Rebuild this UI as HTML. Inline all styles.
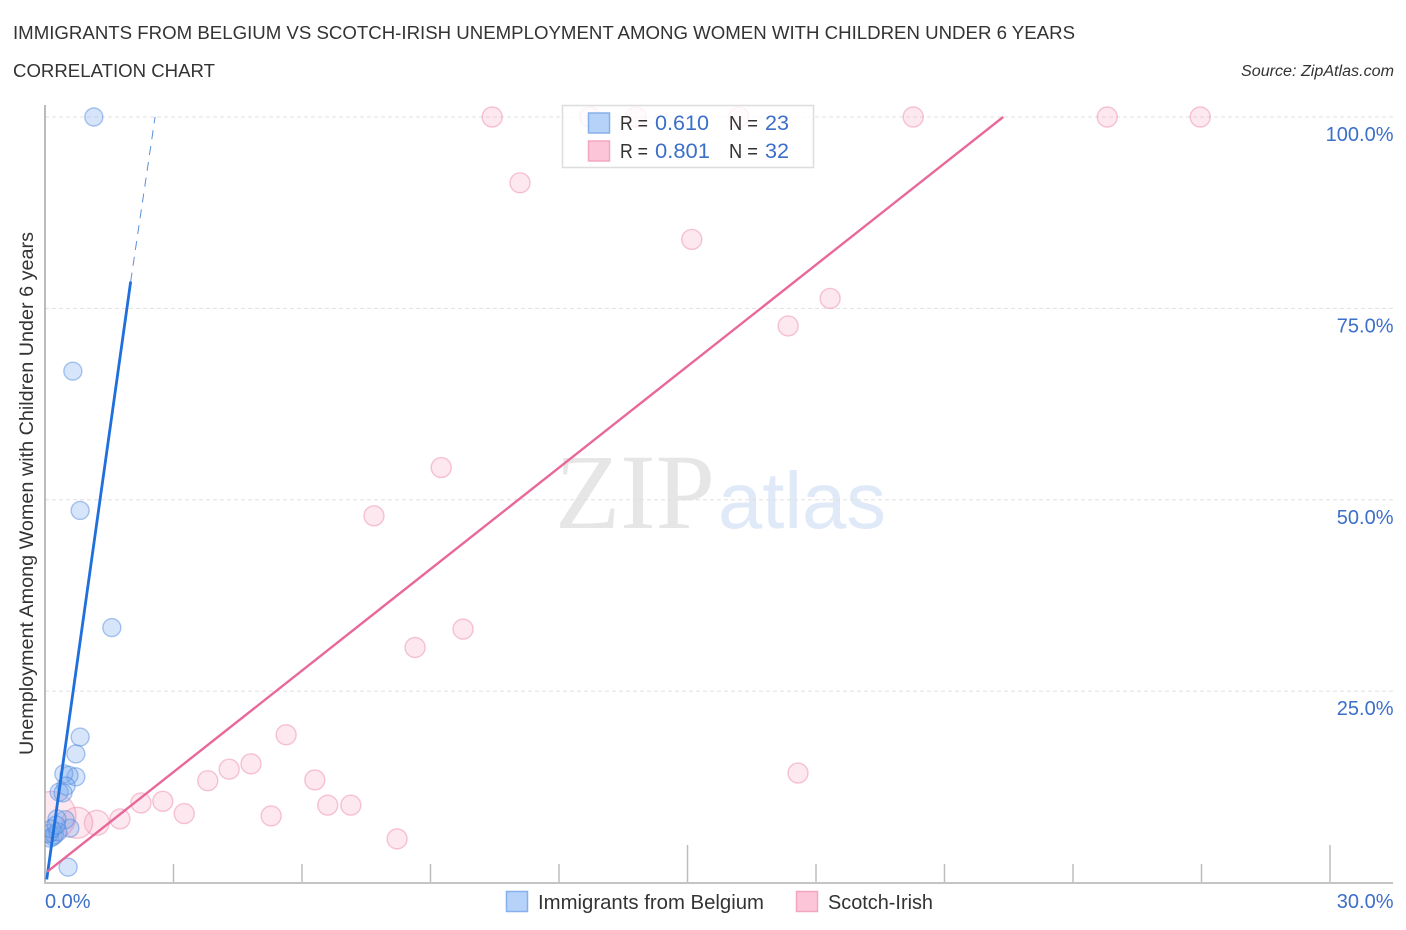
<!DOCTYPE html>
<html>
<head>
<meta charset="utf-8">
<title>Immigrants from Belgium vs Scotch-Irish Correlation Chart</title>
<style>
html,body{margin:0;padding:0;background:#fff;width:1406px;height:930px;overflow:hidden}
svg{display:block;font-family:"Liberation Sans",sans-serif}
</style>
</head>
<body>
<svg id="chart" width="1406" height="930" viewBox="0 0 1406 930" xmlns="http://www.w3.org/2000/svg">
  <defs><clipPath id="plot-clip"><rect x="45" y="100" width="1350" height="783"/></clipPath></defs>
  <text x="13" y="39" font-size="18.5" fill="#333" textLength="1062" lengthAdjust="spacingAndGlyphs">IMMIGRANTS FROM BELGIUM VS SCOTCH-IRISH UNEMPLOYMENT AMONG WOMEN WITH CHILDREN UNDER 6 YEARS</text>
  <text x="13" y="77" font-size="18.5" fill="#333" textLength="202" lengthAdjust="spacingAndGlyphs">CORRELATION CHART</text>
  <text x="1241" y="76" font-size="15.5" font-style="italic" fill="#333" textLength="153" lengthAdjust="spacingAndGlyphs">Source: ZipAtlas.com</text>
  <text transform="translate(33 755) rotate(-90)" font-size="19" fill="#333" textLength="523" lengthAdjust="spacingAndGlyphs">Unemployment Among Women with Children Under 6 years</text>
  <g>
    <text x="555" y="528" font-family="'Liberation Serif',serif" font-size="107" fill="#e6e6e6" textLength="160" lengthAdjust="spacingAndGlyphs">ZIP</text>
    <text x="718" y="528" font-family="'Liberation Sans',sans-serif" font-size="80" fill="#dfe9f8" textLength="168" lengthAdjust="spacingAndGlyphs">atlas</text>
  </g>
  <g id="grid"></g>
  <g id="axes"></g>
  <g id="points" clip-path="url(#plot-clip)"></g>
  <g id="trends"></g>
  <g>
    <rect x="562.5" y="105.5" width="251" height="62" fill="#fff" fill-opacity="0.78" stroke="#ddd" stroke-width="1.5"/>
    <rect x="588.5" y="113" width="21" height="20" fill="#b6d2f9" stroke="#86b0ea" stroke-width="1.5"/>
    <rect x="588.5" y="141" width="21" height="20" fill="#fcc5d8" stroke="#f3a6c0" stroke-width="1.5"/>
    <text x="620" y="130" font-size="20" fill="#333" textLength="28" lengthAdjust="spacingAndGlyphs">R =</text>
    <text x="655" y="130" font-size="21" fill="#3b6fc9" textLength="54" lengthAdjust="spacingAndGlyphs">0.610</text>
    <text x="729" y="130" font-size="20" fill="#333" textLength="29" lengthAdjust="spacingAndGlyphs">N =</text>
    <text x="765" y="130" font-size="21" fill="#3b6fc9" textLength="24" lengthAdjust="spacingAndGlyphs">23</text>
    <text x="620" y="158" font-size="20" fill="#333" textLength="28" lengthAdjust="spacingAndGlyphs">R =</text>
    <text x="655" y="158" font-size="21" fill="#3b6fc9" textLength="55" lengthAdjust="spacingAndGlyphs">0.801</text>
    <text x="729" y="158" font-size="20" fill="#333" textLength="29" lengthAdjust="spacingAndGlyphs">N =</text>
    <text x="765" y="158" font-size="21" fill="#3b6fc9" textLength="24" lengthAdjust="spacingAndGlyphs">32</text>
  </g>
  <g>
    <rect x="506.5" y="891.5" width="21" height="20" fill="#b6d2f9" stroke="#86b0ea" stroke-width="1.5"/>
    <text x="538" y="909" font-size="20" fill="#333" textLength="226" lengthAdjust="spacingAndGlyphs">Immigrants from Belgium</text>
    <rect x="796.5" y="891.5" width="21" height="20" fill="#fcc5d8" stroke="#f3a6c0" stroke-width="1.5"/>
    <text x="828" y="909" font-size="20" fill="#333" textLength="105" lengthAdjust="spacingAndGlyphs">Scotch-Irish</text>
  </g>
</svg>
<script>
const xTicks = [0, 3, 6, 9, 12, 15, 18, 21, 24, 27, 30];
const xMajorTicks = [0, 15, 30];
const xTickLabels = ["0.0%", "30.0%"];
const xLabelValues = [0, 30];
const yTicks = [100, 75, 50, 25];
const yTickLabels = ["100.0%", "75.0%", "50.0%", "25.0%"];

const belgiumX = [1.14, 0.65, 0.82, 1.56, 0.82, 0.72, 0.72, 0.44, 0.56, 0.49, 0.33, 0.42, 0.54, 0.58, 0.47, 0.28, 0.12, 0.18, 0.22, 0.10, 0.30, 0.15, 0.26];
const belgiumY = [100, 66.8, 48.6, 33.3, 19, 16.8, 13.8, 14.2, 14, 12.6, 11.8, 11.7, 2.0, 7.1, 8.2, 8.3, 5.8, 6.0, 6.2, 6.4, 6.6, 7.0, 7.5];

const scotchX = [10.44, 12.72, 13.8, 16.2, 20.27, 24.8, 26.97, 11.09, 15.1, 18.33, 17.35, 9.25, 7.68, 9.76, 8.64, 5.63, 4.81, 4.3, 3.8, 6.3, 17.58, 2.75, 2.24, 3.25, 5.28, 6.6, 7.14, 8.22, 1.75, 1.21, 0.75, 0.15];
const scotchY = [100, 100, 100, 100, 100, 100, 100, 91.4, 84, 76.3, 72.7, 54.2, 47.9, 33.1, 30.7, 19.3, 15.5, 14.8, 13.3, 13.4, 14.3, 10.6, 10.4, 9, 8.7, 10.1, 10.1, 5.7, 8.3, 7.8, 7.8, 8.7];
const scotchWeight = [1, 1, 1, 1, 1, 1, 1, 1, 1, 1, 1, 1, 1, 1, 1, 1, 1, 1, 1, 1, 1, 1, 1, 1, 1, 1, 1, 1, 1, 1.56, 2.4, 6];

const belgiumTrendX = [0.04, 2.0, 2.57];
const belgiumTrendY = [0.4, 78.5, 100];
const scotchTrendX = [0.05, 22.37];
const scotchTrendY = [1.4, 100];

const NS = "http://www.w3.org/2000/svg";
function xScale(v) { return 45 + v * (1285 / 30); }
function yScale(v) { return 882.5 - v * 7.655; }
function radius(w) { return 10 * Math.sqrt(w); }
function make(tag, parentId) {
  const el = document.createElementNS(NS, tag);
  document.getElementById(parentId).appendChild(el);
  return el;
}

yTicks.forEach(function (v, i) {
  const line = make("line", "grid");
  
  
  line.setAttribute("x1", 45);
  line.setAttribute("x2", 1393);
  line.setAttribute("y1", yScale(v));
  line.setAttribute("y2", yScale(v));
  line.setAttribute("stroke", "#e0e0e0");
  line.setAttribute("stroke-width", "1");
  line.setAttribute("stroke-dasharray", "4 3");
  const label = make("text", "axes");
  
  
  label.setAttribute("x", 1393.5);
  label.setAttribute("y", yScale(v) + 24);
  label.setAttribute("text-anchor", "end");
  label.setAttribute("font-size", "20");
  label.setAttribute("fill", "#3b6fc9");
  label.textContent = yTickLabels[i];
});

xTicks.forEach(function (v) {
  const tick = make("line", "axes");
  
  
  const major = xMajorTicks.indexOf(v) >= 0;
  tick.setAttribute("x1", xScale(v));
  tick.setAttribute("x2", xScale(v));
  tick.setAttribute("y1", major ? 845 : 864);
  tick.setAttribute("y2", 883);
  tick.setAttribute("stroke", "#bdbdbd");
  tick.setAttribute("stroke-width", "1.5");
});

const yAxis = make("line", "axes");


yAxis.setAttribute("x1", 45);
yAxis.setAttribute("x2", 45);
yAxis.setAttribute("y1", 105);
yAxis.setAttribute("y2", 884);
yAxis.setAttribute("stroke", "#bbb");
yAxis.setAttribute("stroke-width", "2");

const xAxis = make("line", "axes");


xAxis.setAttribute("x1", 44);
xAxis.setAttribute("x2", 1393);
xAxis.setAttribute("y1", 883);
xAxis.setAttribute("y2", 883);
xAxis.setAttribute("stroke", "#c4c4c4");
xAxis.setAttribute("stroke-width", "2");

xLabelValues.forEach(function (v, i) {
  const label = make("text", "axes");
  
  
  label.setAttribute("x", i === 0 ? xScale(v) : 1393.5);
  label.setAttribute("y", 908);
  label.setAttribute("text-anchor", i === 0 ? "start" : "end");
  label.setAttribute("font-size", "20");
  label.setAttribute("fill", "#3b6fc9");
  label.textContent = xTickLabels[i];
});

scotchX.forEach(function (v, i) {
  const c = make("circle", "points");
  
  
  c.setAttribute("cx", xScale(v));
  c.setAttribute("cy", yScale(scotchY[i]));
  c.setAttribute("r", radius(scotchWeight[i]));
  c.setAttribute("fill", "rgba(246,170,195,0.27)");
  c.setAttribute("stroke", "rgba(236,130,165,0.45)");
  c.setAttribute("stroke-width", "1.4");
});

belgiumX.forEach(function (v, i) {
  const c = make("circle", "points");
  
  
  c.setAttribute("cx", xScale(v));
  c.setAttribute("cy", yScale(belgiumY[i]));
  c.setAttribute("r", 9);
  c.setAttribute("fill", "rgba(120,170,240,0.3)");
  c.setAttribute("stroke", "rgba(70,130,220,0.45)");
  c.setAttribute("stroke-width", "1.4");
});

const belgiumSolid = make("line", "trends");


belgiumSolid.setAttribute("x1", xScale(belgiumTrendX[0]));
belgiumSolid.setAttribute("y1", yScale(belgiumTrendY[0]));
belgiumSolid.setAttribute("x2", xScale(belgiumTrendX[1]));
belgiumSolid.setAttribute("y2", yScale(belgiumTrendY[1]));
belgiumSolid.setAttribute("stroke", "#1f6fdc");
belgiumSolid.setAttribute("stroke-width", "2.8");

const belgiumDash = make("line", "trends");


belgiumDash.setAttribute("x1", xScale(belgiumTrendX[1]));
belgiumDash.setAttribute("y1", yScale(belgiumTrendY[1]));
belgiumDash.setAttribute("x2", xScale(belgiumTrendX[2]));
belgiumDash.setAttribute("y2", yScale(belgiumTrendY[2]));
belgiumDash.setAttribute("stroke", "#5b8fd8");
belgiumDash.setAttribute("stroke-width", "1");
belgiumDash.setAttribute("stroke-dasharray", "9 7");

const scotchLine = make("line", "trends");


scotchLine.setAttribute("x1", xScale(scotchTrendX[0]));
scotchLine.setAttribute("y1", yScale(scotchTrendY[0]));
scotchLine.setAttribute("x2", xScale(scotchTrendX[1]));
scotchLine.setAttribute("y2", yScale(scotchTrendY[1]));
scotchLine.setAttribute("stroke", "#e8689a");
scotchLine.setAttribute("stroke-width", "2.4");
</script>
</body>
</html>
